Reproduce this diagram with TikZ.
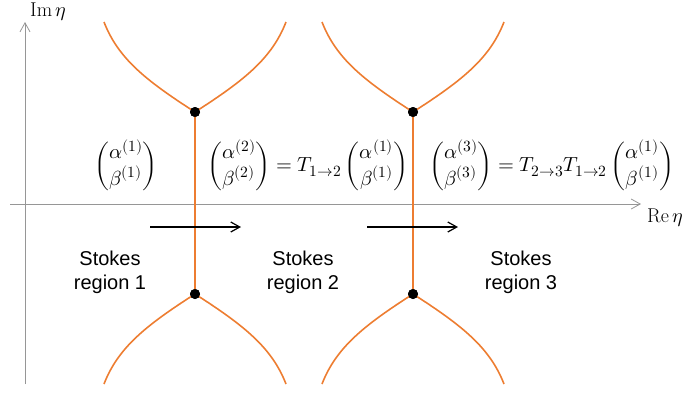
\documentclass[tikz,border=0pt]{standalone}
\usepackage{amsmath}
\usepackage{fontspec}
\usepackage{unicode-math}
\setmathfont{Latin Modern Math}
\setsansfont{Liberation Sans}
\DeclareMathSizes{20.4}{20.4}{15.6}{11.6}
\DeclareMathSizes{20}{20}{15}{11}
\usetikzlibrary{arrows.meta}
\definecolor{orng}{RGB}{237,125,49}
\definecolor{axgray}{RGB}{150,150,150}
\tikzset{
  axisline/.style={draw=axgray, line width=0.9pt, -{Straight Barb[length=9pt,width=10pt,line width=0.8pt]}},
  stokesline/.style={draw=orng, line width=1.6pt},
  flowarrow/.style={draw=black, line width=1.3pt, -{Straight Barb[length=9pt,width=10pt,line width=1.2pt]}},
  bpoint/.style={circle, fill=black, inner sep=0pt, minimum size=10pt},
  regionlabel/.style={align=center, font=\sffamily\fontsize{20}{24}\selectfont},
  mathlabel/.style={font=\fontsize{20.4}{25}\selectfont, inner sep=0pt},
  axislabel/.style={font=\fontsize{20}{24}\selectfont, inner sep=0pt}
}
\begin{document}
\begin{tikzpicture}[x=1pt,y=-1pt]
\useasboundingbox (0,0) rectangle (689,392);
% axes
\coordinate (vb) at (25,384);
\coordinate (vt) at (25,22);
\coordinate (hl) at (10,204);
\coordinate (hr) at (641,204);
\draw[axisline] (vb) -- (vt);
\draw[axisline] (hl) -- (hr);
\node[axislabel, anchor=west] (im) at (30,12) {$\mathrm{Im}\,\eta$};
\node[axislabel, anchor=west] (re) at (647,218) {$\mathrm{Re}\,\eta$};
% branch points
\node[bpoint] (t1) at (195,112) {};
\node[bpoint] (b1) at (195,294) {};
\node[bpoint] (t2) at (413,112) {};
\node[bpoint] (b2) at (413,294) {};
% stokes lines
\foreach \n/\x in {1/195,2/413}{
  \coordinate (tl\n) at (\x-91,22);
  \coordinate (tr\n) at (\x+91,22);
  \coordinate (bl\n) at (\x-91,384);
  \coordinate (br\n) at (\x+91,384);
  \draw[stokesline] (t\n.center) -- (b\n.center);
  \draw[stokesline] (t\n.center) .. controls (\x-50,80) and (\x-77,58) .. (tl\n);
  \draw[stokesline] (t\n.center) .. controls (\x+50,80) and (\x+77,58) .. (tr\n);
  \draw[stokesline] (b\n.center) .. controls (\x-50,326) and (\x-77,348) .. (bl\n);
  \draw[stokesline] (b\n.center) .. controls (\x+50,326) and (\x+77,348) .. (br\n);
}
\node[bpoint] at (t1) {};
\node[bpoint] at (b1) {};
\node[bpoint] at (t2) {};
\node[bpoint] at (b2) {};
% flow arrows
\coordinate (a1s) at (150,227);
\coordinate (a1e) at (241,227);
\coordinate (a2s) at (367,227);
\coordinate (a2e) at (458,227);
\draw[flowarrow] (a1s) -- (a1e);
\draw[flowarrow] (a2s) -- (a2e);
% region labels
\node[regionlabel] (r1) at (110,272) {Stokes\\region 1};
\node[regionlabel] (r2) at (303,272) {Stokes\\region 2};
\node[regionlabel] (r3) at (521,272) {Stokes\\region 3};
% math
\node[mathlabel, anchor=west] (m1) at (94,166) {$\begin{pmatrix}\alpha^{(1)}\\ \beta^{(1)}\end{pmatrix}$};
\node[mathlabel, anchor=west] (m2) at (207,166) {$\begin{pmatrix}\alpha^{(2)}\\ \beta^{(2)}\end{pmatrix} = T_{1\to2}\begin{pmatrix}\alpha^{(1)}\\ \beta^{(1)}\end{pmatrix}$};
\node[mathlabel, anchor=west] (m3) at (429,166) {$\begin{pmatrix}\alpha^{(3)}\\ \beta^{(3)}\end{pmatrix} = T_{2\to3}T_{1\to2}\begin{pmatrix}\alpha^{(1)}\\ \beta^{(1)}\end{pmatrix}$};
\end{tikzpicture}
\end{document}
